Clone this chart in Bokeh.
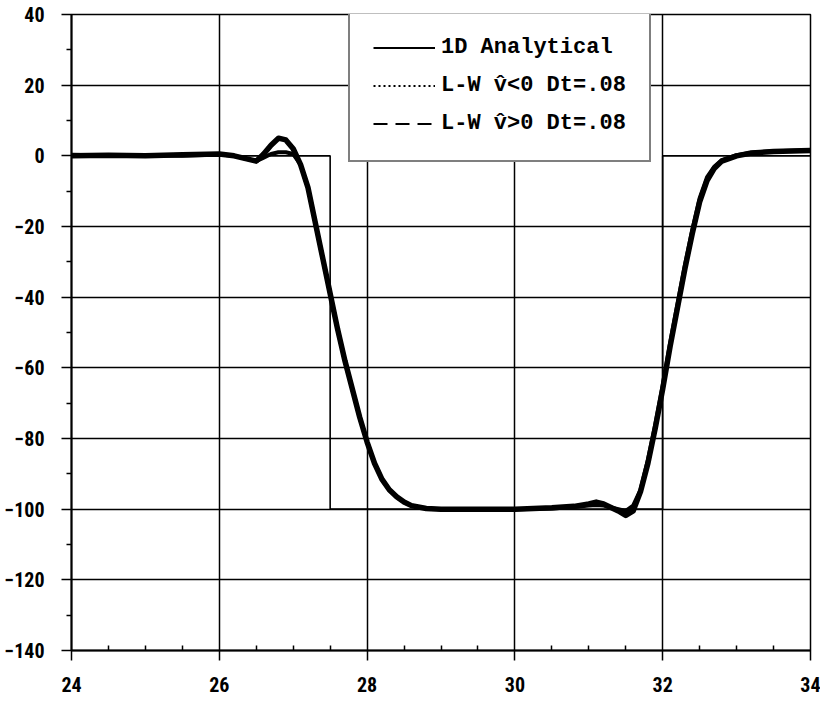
from bokeh.plotting import figure
from bokeh.models import Range1d, FixedTicker, Legend, LegendItem
from bokeh.embed import file_html
from bokeh.resources import INLINE

# ---- data ----
x_ticks = [24, 26, 28, 30, 32, 34]
x_minor = [24.5, 25, 25.5, 26.5, 27, 27.5, 28.5, 29, 29.5, 30.5, 31, 31.5, 32.5, 33, 33.5]
y_ticks = [40, 20, 0, -20, -40, -60, -80, -100, -120, -140]
y_minor = [30, 10, -10, -30, -50, -70, -90, -110, -130]

# 1D analytical (square pulse)
ana_x = [24, 27.5, 27.5, 32, 32, 34]
ana_y = [0, 0, -100, -100, 0, 0]

# L-W  v^<0  Dt=.08
lw_neg_x = [24.0, 24.5, 25.0, 25.5, 26.0, 26.2, 26.4, 26.5, 26.6, 26.7, 26.8, 26.9, 27.0, 27.1,
            27.2, 27.3, 27.4, 27.5, 27.6, 27.7, 27.8, 27.9, 28.0, 28.1, 28.2, 28.3, 28.4, 28.5,
            28.6, 28.8, 29.0, 29.5, 30.0, 30.5, 30.8, 31.0, 31.1, 31.2, 31.3, 31.4, 31.5, 31.6,
            31.7, 31.8, 31.9, 32.0, 32.1, 32.2, 32.3, 32.4, 32.5, 32.6, 32.7, 32.8, 33.0, 33.2,
            33.5, 34.0]
lw_neg_y = [0, 0.2, 0, 0.3, 0.5, 0, -1, -1.5, 0.5, 3, 5, 4.5, 2, -2.5,
            -9, -19, -29, -39, -49, -58, -66, -74, -81, -87, -91.5, -94.5, -96.5, -98,
            -99, -99.8, -100, -100, -100, -99.6, -99.2, -98.5, -98, -98.5, -99.5, -100.5, -101.8, -100.5,
            -95, -87, -77, -66, -54, -43, -32, -22, -13, -7, -3.5, -1.5, 0, 0.8,
            1.2, 1.5]

# L-W  v^>0  Dt=.08
lw_pos_x = [24.0, 24.5, 25.0, 25.5, 26.0, 26.2, 26.4, 26.5, 26.6, 26.7, 26.8, 26.9, 27.0, 27.1,
            27.2, 27.3, 27.4, 27.5, 27.6, 27.7, 27.8, 27.9, 28.0, 28.1, 28.2, 28.3, 28.4, 28.5,
            28.6, 28.8, 29.0, 29.5, 30.0, 30.5, 30.8, 31.0, 31.1, 31.2, 31.3, 31.4, 31.5, 31.6,
            31.7, 31.8, 31.9, 32.0, 32.1, 32.2, 32.3, 32.4, 32.5, 32.6, 32.7, 32.8, 33.0, 33.2,
            33.5, 34.0]
lw_pos_y = [0.3, 0, 0.2, 0, 0.4, 0, -1, -1.5, -0.5, 0.5, 1, 1, 0.5, -2.5,
            -9, -19, -29, -39, -49, -58, -66, -74, -81, -87, -91.5, -94.5, -96.5, -98,
            -99, -99.8, -100, -100, -100, -99.8, -99.4, -99, -98.8, -99, -99.5, -100, -100.5, -99,
            -94.5, -86, -76, -65, -53, -42, -31, -21, -12, -6, -3, -1.2, 0.2, 0.9,
            1.3, 1.6]

# off-range samples used only so that the legend can show each line style
legend_x = [20, 21]
legend_y = [0, 0]

TICK_FONT = "'Liberation Sans Narrow', 'Arial Narrow', 'Roboto Condensed', 'Liberation Sans', sans-serif"

p = figure(width=820, height=700, output_backend="svg", toolbar_location=None,
           x_range=Range1d(24, 34), y_range=Range1d(-140, 40),
           min_border_left=71, min_border_right=10, min_border_top=14, min_border_bottom=50)
p.background_fill_color = "white"
p.border_fill_color = "white"
p.outline_line_color = "black"
p.outline_line_width = 1.5

# axes
for ax, ticks, minor in ((p.xaxis[0], x_ticks, x_minor), (p.yaxis[0], y_ticks, y_minor)):
    ax.ticker = FixedTicker(ticks=ticks, minor_ticks=minor)
    ax.axis_line_color = "black"
    ax.axis_line_width = 2
    ax.major_tick_line_color = "black"
    ax.major_tick_line_width = 1.5
    ax.minor_tick_line_color = "black"
    ax.minor_tick_line_width = 1.5
    ax.major_label_text_font = TICK_FONT
    ax.major_label_text_font_style = "bold"
    ax.major_label_text_font_size = "20px"
    ax.major_label_text_color = "black"

p.xaxis.major_tick_in = 0
p.xaxis.major_tick_out = 10
p.xaxis.minor_tick_in = 5
p.xaxis.minor_tick_out = 0
p.xaxis.major_label_standoff = 16

p.yaxis.major_tick_in = 0
p.yaxis.major_tick_out = 10
p.yaxis.minor_tick_in = 0
p.yaxis.minor_tick_out = 5
p.yaxis.major_label_standoff = 17

# grid
p.xgrid.ticker = FixedTicker(ticks=[26, 28, 30, 32])
p.ygrid.ticker = FixedTicker(ticks=[20, -20, -40, -60, -80, -100, -120])
for g in (p.xgrid[0], p.ygrid[0]):
    g.grid_line_color = "black"
    g.grid_line_width = 1.5

# data lines
p.line(ana_x, ana_y, line_color="black", line_width=1.6)
p.line(lw_neg_x, lw_neg_y, line_color="black", line_width=5.5, line_join="round")
p.line(lw_pos_x, lw_pos_y, line_color="black", line_width=4, line_join="round")

# legend glyphs showing each series' line style (drawn outside the visible range)
r_a = p.line(legend_x, legend_y, line_color="black", line_width=2)
r_n = p.line(legend_x, legend_y, line_color="black", line_width=2, line_dash="2 3")
r_p = p.line(legend_x, legend_y, line_color="black", line_width=2, line_dash="14 8")

legend = Legend(items=[
    LegendItem(label="1D Analytical", renderers=[r_a]),
    LegendItem(label="L-W v\u0302<0 Dt=.08", renderers=[r_n]),
    LegendItem(label="L-W v\u0302>0 Dt=.08", renderers=[r_p]),
], location=(277, 488))
legend.label_text_font = "'Liberation Mono', 'Courier New', monospace"
legend.label_text_font_style = "bold"
legend.label_text_font_size = "22px"
legend.label_text_color = "black"
legend.glyph_width = 62
legend.glyph_height = 27
legend.label_height = 27
legend.label_standoff = 6
legend.spacing = 11
legend.padding = 23
legend.margin = 0
legend.border_line_color = "black"
legend.border_line_width = 2
legend.background_fill_color = "white"
legend.background_fill_alpha = 1.0
p.add_layout(legend, "center")

open("out.html", "w").write(file_html(p, INLINE))
